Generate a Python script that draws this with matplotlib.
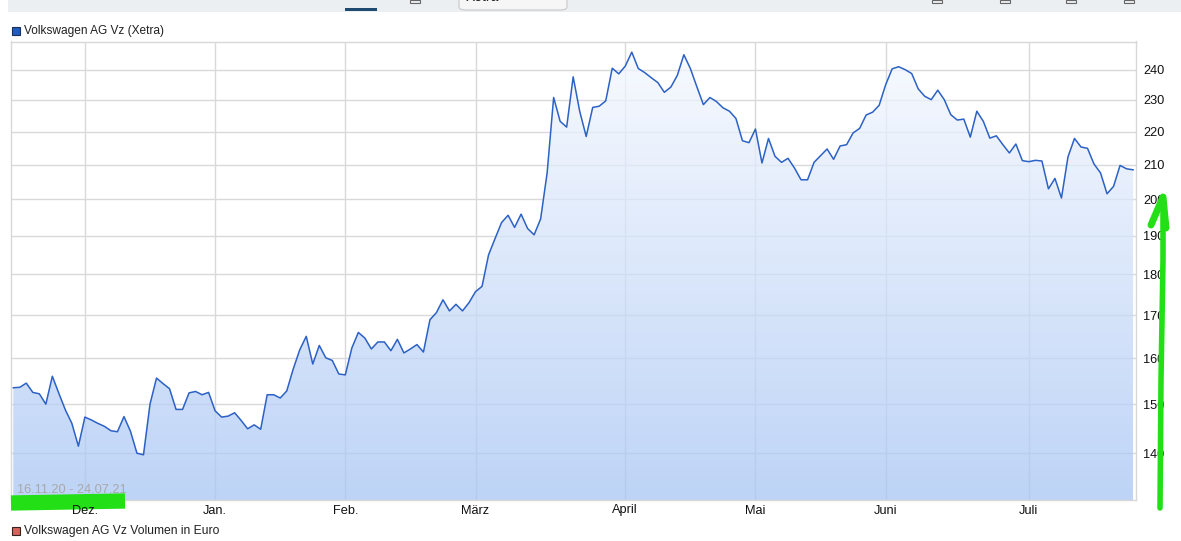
import numpy as np
import matplotlib.pyplot as plt
from matplotlib.patches import Rectangle, FancyBboxPatch
from matplotlib.lines import Line2D
from matplotlib.ticker import FixedLocator, FixedFormatter, NullLocator, NullFormatter

plt.rcParams['font.family'] = ['Liberation Sans', 'DejaVu Sans']

# Schlusskurse Volkswagen AG Vz (Xetra), 16.11.20 - 23.07.21, ein Wert je Handelstag
kurse = [
    153.5, 153.6, 154.5, 152.5, 152.2, 150.0, 156.0, 152.3, 148.8, 146.0,
    141.4, 147.3, 146.7, 146.0, 145.4, 144.5, 144.3, 147.4, 144.4, 140.0,
    139.7, 150.0, 155.6, 154.4, 153.3, 148.9, 148.9, 152.4, 152.7, 152.0,
    152.5, 148.6, 147.3, 147.5, 148.2, 146.6, 144.9, 145.7, 144.8, 152.0,
    152.0, 151.3, 152.8, 157.6, 161.9, 165.0, 158.7, 162.9, 160.1, 159.5,
    156.5, 156.3, 162.3, 165.9, 164.6, 162.1, 163.7, 163.7, 161.7, 164.3,
    161.2, 162.1, 163.1, 161.4, 168.9, 170.6, 173.7, 171.0, 172.6, 171.0,
    173.0, 175.7, 177.0, 185.0, 189.3, 193.6, 195.6, 192.3, 195.9, 192.0,
    190.3, 194.6, 207.6, 230.8, 223.2, 221.4, 237.6, 226.4, 218.5, 227.6,
    228.0, 229.7, 240.5, 238.6, 241.2, 246.0, 240.4, 239.0, 237.3, 235.7,
    232.5, 234.2, 238.1, 245.1, 240.4, 234.3, 228.5, 230.8, 229.5, 227.5,
    226.4, 224.1, 217.2, 216.6, 220.8, 210.5, 217.9, 212.5, 210.7, 211.9,
    209.0, 205.6, 205.6, 210.7, 212.7, 214.7, 211.6, 215.6, 216.0, 219.6,
    221.0, 225.2, 226.1, 228.3, 235.0, 240.3, 241.0, 240.0, 238.7, 233.6,
    231.2, 230.1, 233.2, 230.1, 225.3, 223.6, 223.9, 218.3, 226.4, 223.2,
    218.0, 218.7, 216.0, 213.5, 216.2, 211.2, 210.9, 211.3, 211.1, 203.0,
    206.0, 200.4, 212.3, 217.9, 215.3, 214.9, 210.2, 207.6, 201.6, 203.7,
    209.8, 208.8, 208.5,
]
# erster Handelstag jedes Monats (Index in kurse)
monat_idx = [11, 31, 51, 71, 94, 114, 134, 156]
monat_namen = ['Dez.', 'Jan.', 'Feb.', 'März', 'April', 'Mai', 'Juni', 'Juli']
y_ticks = [140, 150, 160, 170, 180, 190, 200, 210, 220, 230, 240]

W, H = 1181, 541
fig = plt.figure(figsize=(W / 100, H / 100), dpi=100)
fig.patch.set_facecolor('white')


def fx(px):
    return px / W


def fy(py):
    return 1 - py / H


ax = fig.add_axes([fx(11), fy(500), fx(1136) - fx(11), fy(41.5) - fy(500)])
x = np.arange(len(kurse))
ax.set_yscale('log')
ax.set_xlim(-0.35, 172.45)
ax.set_ylim(131.1, 249.7)

# Flaeche mit Verlauf (halbtransparent ueber dem Gitter)
poly = ax.fill_between(x, kurse, 100, facecolor='none', edgecolor='none')
t = np.linspace(0, 1, 256)[:, None, None]
top = np.array([0.968, 0.979, 1.0])
bot = np.array([0.66, 0.775, 0.958])
img = top + (bot - top) * t * np.ones((1, 1, 3))
im = ax.imshow(img, extent=[0, 1, 0, 1], transform=ax.transAxes, origin='upper',
               aspect='auto', zorder=1, alpha=0.75, interpolation='bilinear')
im.set_clip_path(poly.get_paths()[0], transform=ax.transData)
ax.plot(x, kurse, color='#2c61c5', lw=1.1, zorder=4)

# Achsen
ax.xaxis.set_major_locator(FixedLocator(monat_idx))
ax.xaxis.set_major_formatter(NullFormatter())
ax.yaxis.set_major_locator(FixedLocator(y_ticks))
ax.yaxis.set_major_formatter(FixedFormatter([str(v) for v in y_ticks]))
ax.yaxis.set_minor_locator(NullLocator())
ax.xaxis.set_minor_locator(NullLocator())
ax.yaxis.tick_right()
ax.tick_params(axis='both', length=0, labelsize=9.2, colors='#111111')
ax.tick_params(axis='y', pad=5)
ax.set_axisbelow(True)
ax.grid(True, color='#d9d9d9', lw=1, zorder=0)
for s in ax.spines.values():
    s.set_color('#d8d8d8')
    s.set_linewidth(1)
    s.set_zorder(5)

# Monatsnamen ueber dem gruenen Strich
for i, name in zip(monat_idx, monat_namen):
    ax.text(i, -13.5 / 458.5, name, transform=ax.get_xaxis_transform(), fontsize=9.2,
            color='#111111', ha='center', va='baseline', zorder=7, clip_on=False)

# gruener Strich unter dem Zeitraum
ax.add_artist(Line2D([fx(11), fx(125)], [fy(503), fy(501)], color='#22e015',
                     lw=11, solid_capstyle='butt', transform=fig.transFigure,
                     zorder=6, clip_on=False))

# Legenden
fig.add_artist(Rectangle((fx(12), fy(35)), fx(8), fy(27) - fy(35),
                         facecolor='#1f5ec0', edgecolor='#1a2f5a', lw=0.8))
fig.text(fx(24), fy(31), 'Volkswagen AG Vz (Xetra)', fontsize=8.6,
         va='center', ha='left', color='#222222')
fig.add_artist(Rectangle((fx(12), fy(535)), fx(8), fy(527) - fy(535),
                         facecolor='#d8625c', edgecolor='#3a2020', lw=0.8))
fig.text(fx(24), fy(531), 'Volkswagen AG Vz Volumen in Euro', fontsize=8.7,
         va='center', ha='left', color='#222222')
fig.text(fx(1140), fy(547), '1,5M', fontsize=9.2, va='center', ha='left', color='#222222')

# Zeitraum
ax.text(0.005, (500 - 490) / 458.5, '16.11.20 - 24.07.21', transform=ax.transAxes,
        fontsize=9.2, color='#a8a8a8', ha='left', va='center', zorder=5)

# Kopfleiste
fig.add_artist(Rectangle((fx(8), fy(12)), 1, fy(0) - fy(12) + 0.01,
                         facecolor='#eceff2', edgecolor='none'))
fig.add_artist(Rectangle((fx(345), fy(11)), fx(32), fy(8) - fy(11),
                         facecolor='#1f4a70', edgecolor='none'))
fig.add_artist(FancyBboxPatch((fx(459), fy(10)), fx(108), fy(-10) - fy(10),
                              boxstyle='round,pad=0,rounding_size=0.006',
                              facecolor='#f6f6f6', edgecolor='#c8c8c8', lw=0.8))
fig.text(fx(466), fy(-3), 'Xetra', fontsize=10, va='center', ha='left', color='#222222')
for px in [410, 932, 1000, 1066, 1124]:
    fig.add_artist(Rectangle((fx(px), fy(3)), fx(10), fy(0) - fy(3),
                             facecolor='none', edgecolor='#666666', lw=0.8))

# gruener Pfeil rechts
fig.add_artist(Line2D([fx(1160), fx(1161), fx(1163), fx(1163)],
                      [fy(508), fy(380), fy(260), fy(197)], color='#22e015',
                      lw=4, solid_capstyle='round'))
fig.add_artist(Line2D([fx(1151), fx(1163), fx(1166)],
                      [fy(225), fy(197), fy(228)], color='#22e015',
                      lw=5, solid_capstyle='round', solid_joinstyle='round'))

fig.savefig('out.png', dpi=100)
